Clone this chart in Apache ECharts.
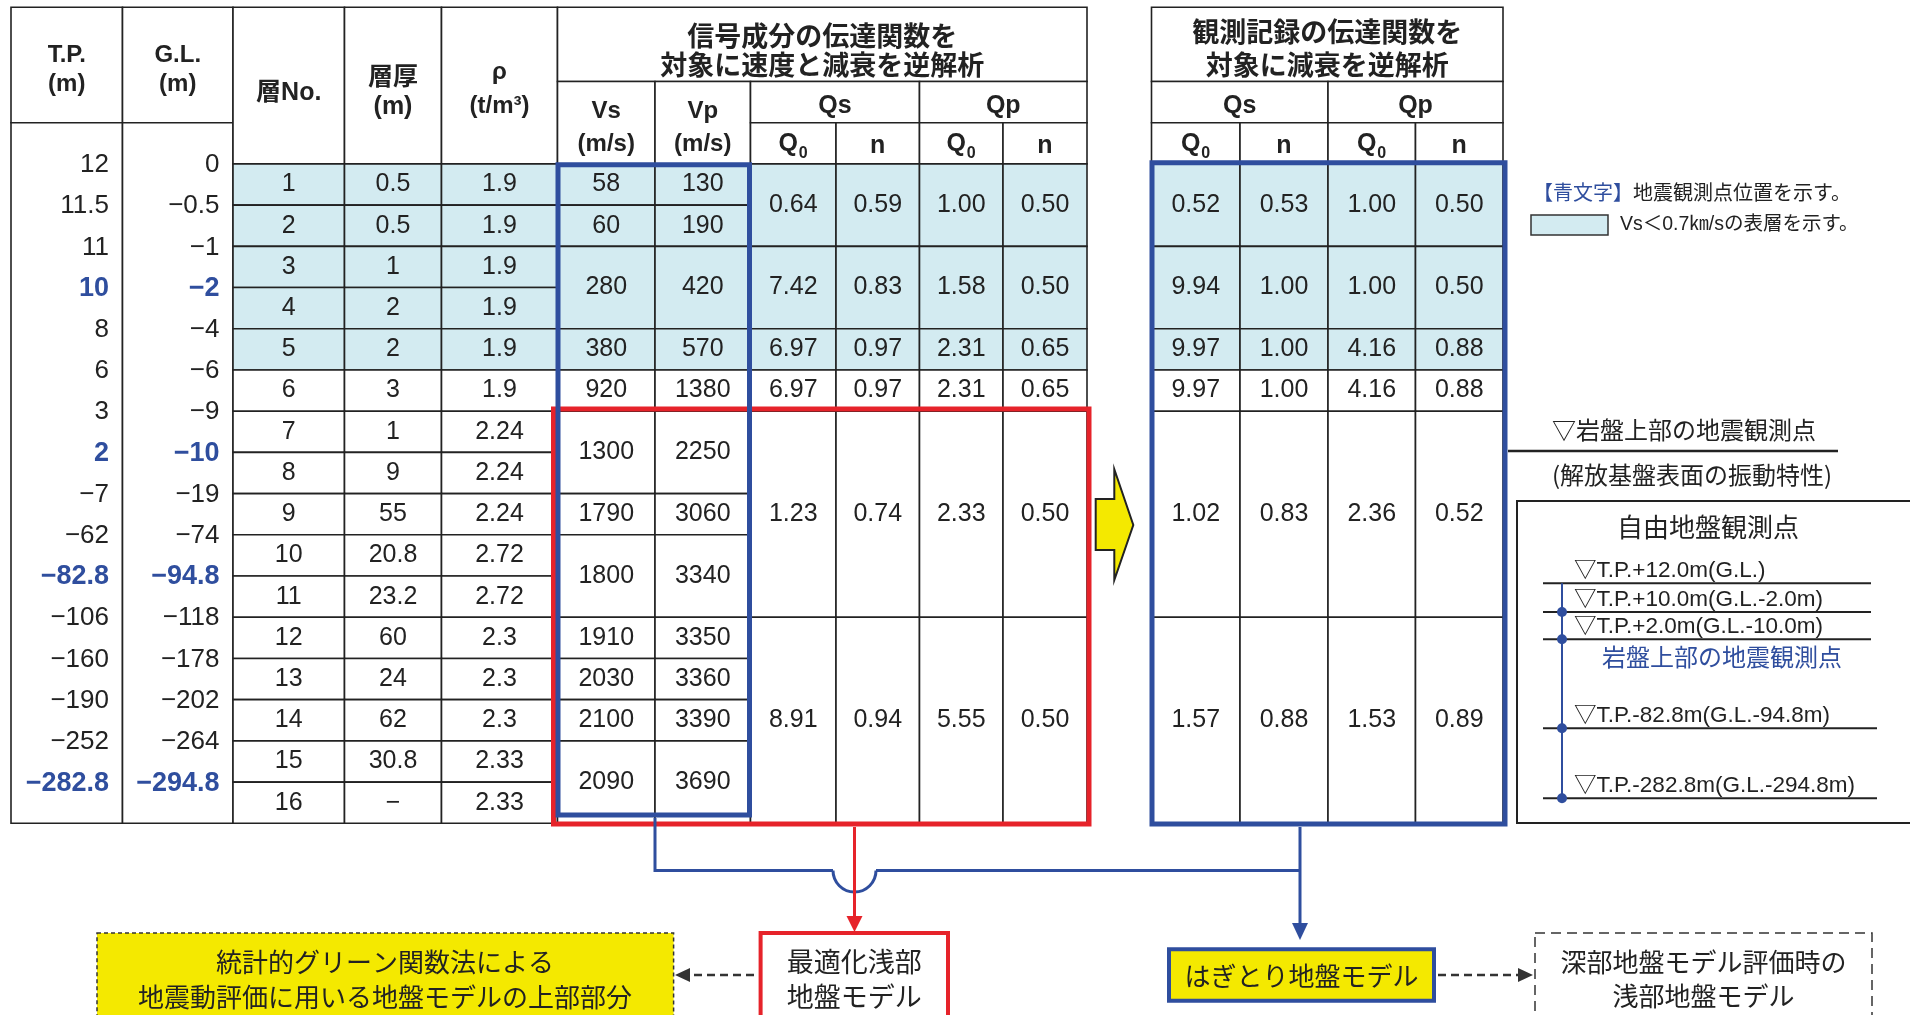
<!DOCTYPE html>
<html><head><meta charset="utf-8">
<script src="https://cdn.jsdelivr.net/npm/echarts@6/dist/echarts.min.js"></script>
<style>html,body{margin:0;padding:0;background:#fff}#c{width:1910px;height:1015px}</style>
</head><body><div id="c"></div><script>
// ===== DATA =====
const tpValues = [12, 11.5, 11, 10, 8, 6, 3, 2, -7, -62, -82.8, -106, -160, -190, -252, -282.8];
const glValues = [0, -0.5, -1, -2, -4, -6, -9, -10, -19, -74, -94.8, -118, -178, -202, -264, -294.8];
const obsBoundaries = [3, 7, 10, 15];
const layerNo = [1, 2, 3, 4, 5, 6, 7, 8, 9, 10, 11, 12, 13, 14, 15, 16];
const thickness = [0.5, 0.5, 1, 2, 2, 3, 1, 9, 55, 20.8, 23.2, 60, 24, 62, 30.8, null];
const density = [1.9, 1.9, 1.9, 1.9, 1.9, 1.9, 2.24, 2.24, 2.24, 2.72, 2.72, 2.3, 2.3, 2.3, 2.33, 2.33];
const velGroups = [[1,1],[2,2],[3,4],[5,5],[6,6],[7,8],[9,9],[10,11],[12,12],[13,13],[14,14],[15,16]];
const vsValues = [58, 60, 280, 380, 920, 1300, 1790, 1800, 1910, 2030, 2100, 2090];
const vpValues = [130, 190, 420, 570, 1380, 2250, 3060, 3340, 3350, 3360, 3390, 3690];
const qGroups = [[1,2],[3,4],[5,5],[6,6],[7,11],[12,16]];
const invQsQ0 = [0.64, 7.42, 6.97, 6.97, 1.23, 8.91];
const invQsN  = [0.59, 0.83, 0.97, 0.97, 0.74, 0.94];
const invQpQ0 = [1.00, 1.58, 2.31, 2.31, 2.33, 5.55];
const invQpN  = [0.50, 0.50, 0.65, 0.65, 0.50, 0.50];
const obsQsQ0 = [0.52, 9.94, 9.97, 9.97, 1.02, 1.57];
const obsQsN  = [0.53, 1.00, 1.00, 1.00, 0.83, 0.88];
const obsQpQ0 = [1.00, 1.00, 4.16, 4.16, 2.36, 1.53];
const obsQpN  = [0.50, 0.50, 0.88, 0.88, 0.52, 0.89];
const surfaceVsLimit = 700;
const obsPointLabels = ['▽T.P.+12.0m(G.L.)', '▽T.P.+10.0m(G.L.-2.0m)', '▽T.P.+2.0m(G.L.-10.0m)', '▽T.P.-82.8m(G.L.-94.8m)', '▽T.P.-282.8m(G.L.-294.8m)'];

// ===== STYLE / LAYOUT =====
const BLUE = '#2f4e9e', RED = '#e6232a', LINE = '#222', SHADE = '#d3ebf1', YEL = '#f4e900';
const JP = "'Noto Sans CJK JP',sans-serif";
const LAT = "'Liberation Sans','Noto Sans CJK JP',sans-serif";
const BODY = '25px ' + LAT;
const HB = 'bold 24px ' + LAT;
const TOPROW = -3.8;
const LCOL = [11, 122.5, 233, 344.5, 441.5, 557.5, 655, 750.5, 836, 919.5, 1003, 1087];
const RCOL = [1151.5, 1240, 1328, 1415.5, 1503];

function fmtSigned(v) { return v < 0 ? '\u2212' + Math.abs(v) : String(v); }

const layerVs = [];
velGroups.forEach((g, k) => { for (let r = g[0]; r <= g[1]; r++) layerVs[r - 1] = vsValues[k]; });

// ===== CELLS =====
const cells = [];
function cell(x0, x1, r0, r1, o) { cells.push(Object.assign({ x0, x1, r0, r1 }, o || {})); }

cell(LCOL[0], LCOL[1], TOPROW, -1, { text: 'T.P.\n(m)', font: HB, lh: 29, dy: 5 });
cell(LCOL[1], LCOL[2], TOPROW, -1, { text: 'G.L.\n(m)', font: HB, lh: 29, dy: 5 });
cell(LCOL[0], LCOL[1], -1, 16);
cell(LCOL[1], LCOL[2], -1, 16);
cell(LCOL[2], LCOL[3], TOPROW, 0, { text: '層No.', font: 'bold 25px ' + LAT, dy: 8 });
cell(LCOL[3], LCOL[4], TOPROW, 0, { text: '層厚\n(m)', font: 'bold 25px ' + LAT, lh: 29, dy: 7 });
cell(LCOL[4], LCOL[5], TOPROW, 0, { text: 'ρ\n(t/m³)', font: HB, lh: 34, dy: 4 });
cell(LCOL[5], LCOL[11], TOPROW, -2, { text: '信号成分の伝達関数を\n対象に速度と減衰を逆解析', font: 'bold 27px ' + JP, lh: 29, dy: 6 });
cell(LCOL[5], LCOL[6], -2, 0, { text: 'Vs\n(m/s)', font: HB, lh: 33, dy: 5 });
cell(LCOL[6], LCOL[7], -2, 0, { text: 'Vp\n(m/s)', font: HB, lh: 33, dy: 5 });
cell(LCOL[7], LCOL[9], -2, -1, { text: 'Qs', font: 'bold 25px ' + LAT, dy: 4 });
cell(LCOL[9], LCOL[11], -2, -1, { text: 'Qp', font: 'bold 25px ' + LAT, dy: 4 });
for (let j = 0; j < 4; j++) cell(LCOL[7 + j], LCOL[8 + j], -1, 0, j % 2 ? { text: 'n', font: 'bold 25px ' + LAT, dy: 3 } : { q0: true, dy: 3 });

cell(RCOL[0], RCOL[4], TOPROW, -2, { text: '観測記録の伝達関数を\n対象に減衰を逆解析', font: 'bold 27px ' + JP, lh: 33, dy: 4 });
cell(RCOL[0], RCOL[2], -2, -1, { text: 'Qs', font: 'bold 25px ' + LAT, dy: 4 });
cell(RCOL[2], RCOL[4], -2, -1, { text: 'Qp', font: 'bold 25px ' + LAT, dy: 4 });
for (let j = 0; j < 4; j++) cell(RCOL[j], RCOL[j + 1], -1, 0, j % 2 ? { text: 'n', font: 'bold 25px ' + LAT, dy: 3 } : { q0: true, dy: 3 });

for (let i = 0; i < 16; i++) {
  const fill = layerVs[i] < surfaceVsLimit ? SHADE : '#fff';
  cell(LCOL[2], LCOL[3], i, i + 1, { text: String(layerNo[i]), fill });
  cell(LCOL[3], LCOL[4], i, i + 1, { text: thickness[i] == null ? '\u2212' : String(thickness[i]), fill });
  cell(LCOL[4], LCOL[5], i, i + 1, { text: String(density[i]), fill });
}
velGroups.forEach((g, k) => {
  const fill = vsValues[k] < surfaceVsLimit ? SHADE : '#fff';
  cell(LCOL[5], LCOL[6], g[0] - 1, g[1], { text: String(vsValues[k]), fill });
  cell(LCOL[6], LCOL[7], g[0] - 1, g[1], { text: String(vpValues[k]), fill });
});
qGroups.forEach((g, k) => {
  let sh = true;
  for (let r = g[0]; r <= g[1]; r++) if (!(layerVs[r - 1] < surfaceVsLimit)) sh = false;
  const fill = sh ? SHADE : '#fff';
  const inv = [invQsQ0[k], invQsN[k], invQpQ0[k], invQpN[k]];
  const obs = [obsQsQ0[k], obsQsN[k], obsQpQ0[k], obsQpN[k]];
  for (let j = 0; j < 4; j++) {
    cell(LCOL[7 + j], LCOL[8 + j], g[0] - 1, g[1], { text: inv[j].toFixed(2), fill });
    cell(RCOL[j], RCOL[j + 1], g[0] - 1, g[1], { text: obs[j].toFixed(2), fill });
  }
});

function textStyle(text, font, fill, align, extra) {
  return Object.assign({ text, font, fill: fill || '#222', align: align || 'center', verticalAlign: 'middle' }, extra || {});
}

function renderCell(params, api) {
  const c = cells[params.dataIndex];
  const a = api.coord([c.x0, c.r0]), b = api.coord([c.x1, c.r1]);
  const ch = [{ type: 'rect', shape: { x: a[0], y: a[1], width: b[0] - a[0], height: b[1] - a[1] },
    style: { fill: c.fill || '#fff', stroke: LINE, lineWidth: 1.6 } }];
  const cx = (a[0] + b[0]) / 2, cy = (a[1] + b[1]) / 2 + (c.dy || 0);
  if (c.text != null) {
    const ex = c.lh ? { lineHeight: c.lh } : {};
    ch.push({ type: 'text', x: cx, y: cy, style: textStyle(c.text, c.font || BODY, '#222', 'center', ex) });
  }
  if (c.q0) {
    ch.push({ type: 'text', x: cx - 5, y: cy - 2, style: textStyle('Q', 'bold 25px ' + LAT) });
    ch.push({ type: 'text', x: cx + 10, y: cy + 7, style: textStyle('0', 'bold 16px ' + LAT) });
  }
  return { type: 'group', children: ch };
}

const labels = [];
tpValues.forEach((v, i) => labels.push({ x: 109, r: i, text: fmtSigned(v), blue: obsBoundaries.includes(i) }));
glValues.forEach((v, i) => labels.push({ x: 219.5, r: i, text: fmtSigned(v), blue: obsBoundaries.includes(i) }));
function renderLabel(params, api) {
  const l = labels[params.dataIndex];
  const p = api.coord([api.value(0), api.value(1)]);
  return { type: 'text', x: p[0], y: p[1] + 1,
    style: textStyle(l.text, (l.blue ? 'bold 27px ' : '26px ') + LAT, l.blue ? BLUE : '#222', 'right') };
}

const boxes = [
  { x0: 553.5, x1: 1089, r0: 5.95, r1: 16.02, color: RED },
  { x0: 558, x1: 749.5, r0: 0.02, r1: 15.8, color: BLUE },
  { x0: 1152, x1: 1505, r0: -0.03, r1: 16.02, color: BLUE }
];
function renderBox(params, api) {
  const bx = boxes[params.dataIndex];
  const a = api.coord([bx.x0, bx.r0]), b = api.coord([bx.x1, bx.r1]);
  return { type: 'rect', shape: { x: a[0], y: a[1], width: b[0] - a[0], height: b[1] - a[1] },
    style: { fill: null, stroke: bx.color, lineWidth: 5 } };
}

// ===== GRAPHIC (annotations / flow) =====
const G = [];
function T(x, y, text, font, fill, align, extra) { G.push({ type: 'text', x, y, z: 20, style: textStyle(text, font, fill, align, extra) }); }
function R(x, y, w, h, style) { G.push({ type: 'rect', z: 10, shape: { x, y, width: w, height: h }, style }); }
function PL(points, style) { G.push({ type: 'polyline', z: 12, shape: { points }, style: Object.assign({ fill: null }, style) }); }
function PG(points, style) { G.push({ type: 'polygon', z: 12, shape: { points }, style }); }

T(1533, 192, '{b|【青文字】}{k|地震観測点位置を示す。}', '20px ' + JP, '#222', 'left',
  { rich: { b: { fill: BLUE, font: '20px ' + JP }, k: { fill: '#222', font: '20px ' + JP } } });
R(1531, 215, 77, 20, { fill: SHADE, stroke: '#333', lineWidth: 1.5 });
T(1620, 225, 'Vs＜0.7㎞/sの表層を示す。', '19.5px ' + LAT, '#222', 'left');

T(1552, 430, '▽岩盤上部の地震観測点', '24px ' + JP, '#222', 'left');
PL([[1508, 451], [1838, 451]], { stroke: LINE, lineWidth: 2.5 });
T(1552, 475, '(解放基盤表面の振動特性)', '24px ' + JP, '#222', 'left');

R(1517, 501, 400, 322, { fill: '#fff', stroke: LINE, lineWidth: 2 });
T(1708, 527, '自由地盤観測点', '26px ' + JP);
const obsLineY = [583.3, 612, 639.3, 728.3, 798.3];
const obsLineEnd = [1871, 1871, 1871, 1877, 1877];
obsPointLabels.forEach((s, i) => {
  PL([[1543, obsLineY[i]], [obsLineEnd[i], obsLineY[i]]], { stroke: LINE, lineWidth: 2 });
  T(1574, obsLineY[i] - 12.5, s, '22.5px ' + LAT, '#222', 'left');
});
PL([[1562, 583.3], [1562, 798.3]], { stroke: BLUE, lineWidth: 2 });
obsLineY.slice(1).forEach(y => G.push({ type: 'circle', z: 13, shape: { cx: 1562, cy: y, r: 5 }, style: { fill: BLUE } }));
T(1722, 657, '岩盤上部の地震観測点', '24px ' + JP, BLUE);

PG([[1095.7, 499], [1114.3, 499], [1114.3, 469.3], [1133.3, 525], [1114.3, 580], [1114.3, 550], [1095.7, 550]],
  { fill: YEL, stroke: LINE, lineWidth: 2 });

PL([[655, 818], [655, 870.5], [833, 870.5]], { stroke: BLUE, lineWidth: 3 });
G.push({ type: 'arc', z: 12, shape: { cx: 854.5, cy: 870.5, r: 21.5, startAngle: 0, endAngle: Math.PI, clockwise: true },
  style: { stroke: BLUE, lineWidth: 3, fill: null } });
PL([[876, 870.5], [1300, 870.5]], { stroke: BLUE, lineWidth: 3 });
PL([[1300, 827], [1300, 926]], { stroke: BLUE, lineWidth: 3 });
PG([[1292, 923], [1308, 923], [1300, 940]], { fill: BLUE });
PL([[854.5, 827], [854.5, 918]], { stroke: RED, lineWidth: 3 });
PG([[846.5, 916], [862.5, 916], [854.5, 932]], { fill: RED });

R(760.6, 933, 187.4, 110, { fill: '#fff', stroke: RED, lineWidth: 4 });
T(854.3, 962, '最適化浅部', '27px ' + JP);
T(854.3, 997, '地盤モデル', '27px ' + JP);
R(97, 933, 576.6, 110, { fill: YEL, stroke: '#333', lineWidth: 1.5, lineDash: [4, 3] });
T(385, 962, '統計的グリーン関数法による', '26px ' + JP);
T(385, 997, '地震動評価に用いる地盤モデルの上部部分', '26px ' + JP);
PL([[754, 975], [689, 975]], { stroke: '#333', lineWidth: 2.5, lineDash: [8, 5] });
PG([[675, 975], [690, 968], [690, 982]], { fill: '#333' });
R(1169, 949.3, 265, 51.4, { fill: YEL, stroke: BLUE, lineWidth: 4 });
T(1301.5, 976, 'はぎとり地盤モデル', '26px ' + JP);
PL([[1438, 975], [1519, 975]], { stroke: '#333', lineWidth: 2.5, lineDash: [8, 5] });
PG([[1533, 975], [1518, 968], [1518, 982]], { fill: '#333' });
R(1535, 933, 337, 110, { fill: '#fff', stroke: '#333', lineWidth: 1.5, lineDash: [10, 6] });
T(1703.5, 962, '深部地盤モデル評価時の', '26px ' + JP);
T(1703.5, 996, '浅部地盤モデル', '26px ' + JP);

// ===== CHART =====
const chart = echarts.init(document.getElementById('c'), null, { renderer: 'canvas' });
chart.setOption({
  animation: false,
  backgroundColor: '#fff',
  grid: { left: 0, right: 0, top: 7.3, bottom: 191.7 },
  xAxis: { type: 'value', min: 0, max: 1910, show: false },
  yAxis: { type: 'value', min: TOPROW, max: 16, inverse: true, show: false },
  series: [
    { type: 'custom', coordinateSystem: 'cartesian2d', silent: true, clip: false, z: 2,
      data: cells.map(c => [c.x0, c.r0, c.x1, c.r1]), encode: { x: [0, 2], y: [1, 3] }, renderItem: renderCell },
    { type: 'custom', coordinateSystem: 'cartesian2d', silent: true, clip: false, z: 3,
      data: labels.map(l => [l.x, l.r]), encode: { x: 0, y: 1 }, renderItem: renderLabel },
    { type: 'custom', coordinateSystem: 'cartesian2d', silent: true, clip: false, z: 4,
      data: boxes.map(b => [b.x0, b.r0, b.x1, b.r1]), encode: { x: [0, 2], y: [1, 3] }, renderItem: renderBox }
  ],
  graphic: G
});
</script></body></html>
